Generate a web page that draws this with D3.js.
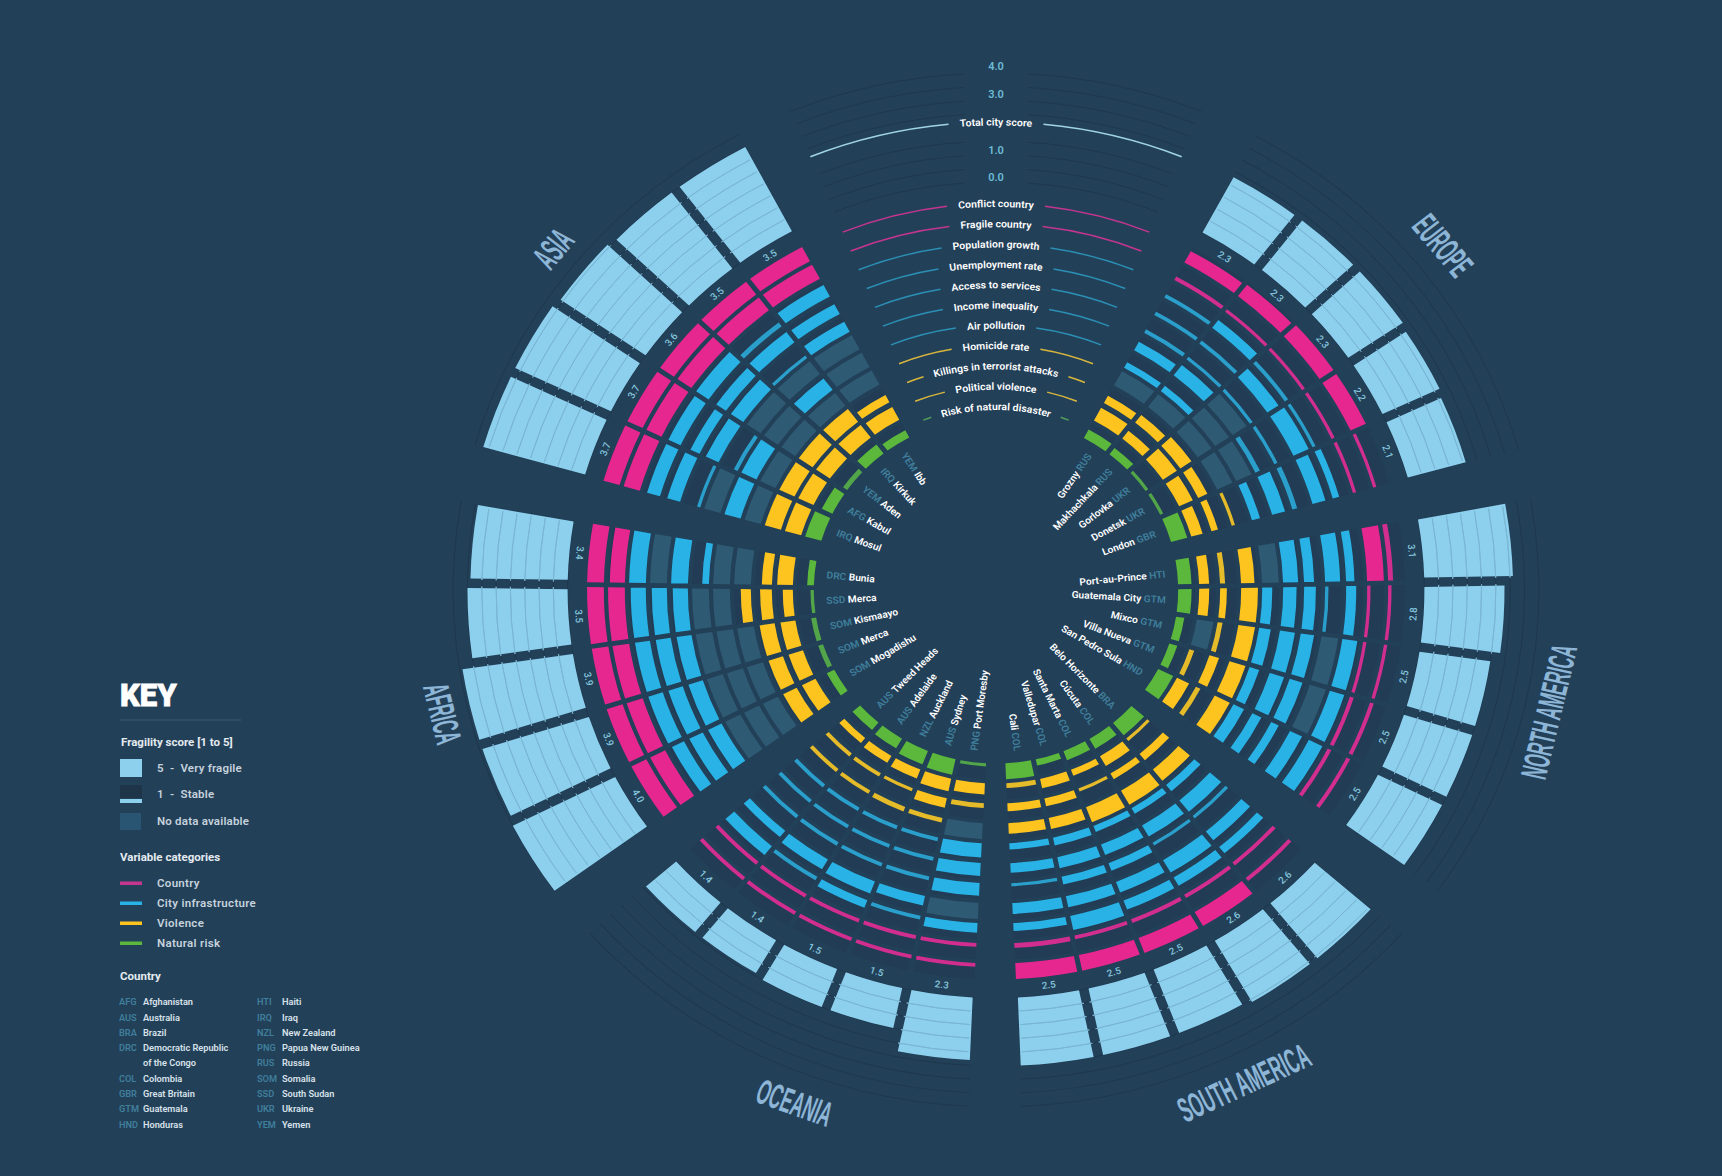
<!DOCTYPE html>
<html>
<head>
<meta charset="utf-8">
<script src="https://cdn.jsdelivr.net/npm/d3@7"></script>
<style>
html, body { margin: 0; padding: 0; background: #234059; }
svg { display: block; }
text { font-family: Roboto, "Noto Sans", sans-serif; }
</style>
</head>
<body>
<svg id="chart" width="1722" height="1176"></svg>
<script>
// rows run from the inner ring to the outer ring
var rowNames = ["Risk of natural disaster", "Political violence", "Killings in terrorist attacks", "Homicide rate",
	"Air pollution", "Income inequality", "Access to services", "Unemployment rate", "Population growth",
	"Fragile country", "Conflict country"];
var rowCategories = ["nature", "violence", "violence", "violence", "city", "city", "city", "city", "city", "country", "country"];

var continents = ["EUROPE", "NORTH AMERICA", "SOUTH AMERICA", "OCEANIA", "AFRICA", "ASIA"];
var continentStart = [28.6, 79.8, 131.7, 182.9, 234.3, 286.2];

var europeCities = ["Grozny", "Makhachkala", "Gorlovka", "Donetsk", "London"];
var europeCodes = ["RUS", "RUS", "UKR", "UKR", "GBR"];
var europeTotals = [2.3, 2.3, 2.3, 2.2, 2.1];
var europeScores = [
	[3, 4.5, 2.5, 0, 2, 3, 1.2, 1.2, 1.2, 1.2, 4],
	[2.5, 3, 3, 0, 2, 4, 1, 1.2, 3, 1, 4.5],
	[1, 5, 4, 0, 0, 0, 1, 4, 1.2, 1, 5],
	[1, 4.5, 3, 0, 0, 1.5, 1, 5, 1, 1, 5],
	[5, 3.5, 2, 1, 2.5, 4, 1.5, 4, 2, 1, 1]
];

var northAmericaCities = ["Port-au-Prince", "Guatemala City", "Mixco", "Villa Nueva", "San Pedro Sula"];
var northAmericaCodes = ["HTI", "GTM", "GTM", "GTM", "HND"];
var northAmericaTotals = [3.1, 2.8, 2.5, 2.5, 2.5];
var northAmericaScores = [
	[4, 3, 1.5, 4, 0, 4.5, 3, 4.5, 2.5, 5, 1.5],
	[4, 3, 2, 5, 3, 4, 3.5, 1, 3, 1, 1],
	[2.5, 0, 1.5, 5, 3.5, 4.5, 4, 0, 4.5, 1, 1],
	[2.5, 1.5, 3, 5, 3, 4.5, 4, 0, 4.5, 1.2, 1.2],
	[5, 4, 1.5, 5, 3.5, 3, 2.5, 4, 4.5, 1.2, 1.2]
];

var southAmericaCities = ["Belo Horizonte", "Cúcuta", "Santa Marta", "Valledupar", "Cali"];
var southAmericaCodes = ["BRA", "COL", "COL", "COL", "COL"];
var southAmericaTotals = [2.6, 2.6, 2.5, 2.5, 2.5];
var southAmericaScores = [
	[5, 1, 2.5, 4.5, 2.5, 4.5, 1, 3.5, 2.5, 1.2, 1.2],
	[3.5, 3.5, 2, 5, 2, 4, 1, 4.5, 3, 1.2, 5],
	[3, 2, 1, 5, 2, 3.5, 2.5, 3.5, 3, 1.2, 5],
	[2, 3, 2.5, 3.5, 2.5, 3.5, 2.5, 3.5, 4.5, 1.2, 5],
	[5, 1.5, 2.5, 3.3, 2, 3, 1, 3.4, 2.5, 1.5, 5]
];

var oceaniaCities = ["Port Moresby", "Sydney", "Auckland", "Adelaide", "Tweed Heads"];
var oceaniaCodes = ["PNG", "AUS", "NZL", "AUS", "AUS"];
var oceaniaTotals = [2.3, 1.5, 1.5, 1.4, 1.4];
var oceaniaScores = [
	[1, 3.5, 1.5, 0, 4.5, 4, 4, 0, 3, 1.2, 1.2],
	[5, 4, 3, 1.5, 1.2, 1.2, 1.2, 3, 1.2, 1.2, 1.2],
	[4.5, 3, 1, 1.5, 1.2, 1.2, 1.2, 4, 2.5, 1.2, 1.2],
	[3.5, 2.5, 1.2, 1.2, 1.2, 1.2, 1.2, 3.5, 1.2, 1.2, 1.2],
	[3, 2, 1.2, 1.2, 1.2, 1.2, 1.2, 2.5, 3.5, 1.2, 1.2]
];

var africaCities = ["Mogadishu", "Merca", "Kismaayo", "Merca", "Bunia"];
var africaCodes = ["SOM", "SOM", "SOM", "SSD", "DRC"];
var africaTotals = [4.0, 3.9, 3.9, 3.5, 3.4];
var africaScores = [
	[2.5, 4.5, 4.5, 0, 0, 0, 4.5, 4.5, 4, 5, 5],
	[1.5, 4.5, 4.5, 0, 0, 0, 4.5, 4.5, 4.5, 5, 5],
	[1.5, 4.5, 4.5, 0, 0, 0, 4.5, 4.5, 4.5, 5, 5],
	[1, 3, 3.5, 3, 0, 0, 4.5, 4.5, 4.5, 5, 5],
	[2, 4.7, 3, 0, 0, 2, 5, 0, 5, 4.5, 5]
];

var asiaCities = ["Mosul", "Kabul", "Aden", "Kirkuk", "Ibb"];
var asiaCodes = ["IRQ", "AFG", "YEM", "IRQ", "YEM"];
var asiaTotals = [3.7, 3.7, 3.6, 3.5, 3.5];
var asiaScores = [
	[5, 5, 5, 0, 5, 0, 1, 4, 4, 5, 5],
	[3.5, 5, 5, 0, 5, 1.2, 4.2, 3, 4, 5, 5],
	[1.5, 5, 5, 0, 0, 0, 4.5, 3.5, 4.5, 5, 5],
	[3.5, 5, 5, 0, 4.5, 0, 1, 4, 1.5, 5, 5],
	[2.5, 4.5, 2.5, 0, 0, 0, 3.5, 3.5, 4, 5, 5]
];

var totalTicks = ["0.0", "1.0", "3.0", "4.0"];
var ringSteps = [0, 0.5, 1, 1.5, 2, 2.5, 3, 3.5, 4];

var keyScale = ["5  -  Very fragile", "1  -  Stable", "No data available"];
var keyCategories = ["Country", "City infrastructure", "Violence", "Natural risk"];
var keyCategoryIds = ["country", "city", "violence", "nature"];
var countriesLeft = [["AFG", "Afghanistan"], ["AUS", "Australia"], ["BRA", "Brazil"], ["DRC", "Democratic Republic"], ["", "of the Congo"],
	["COL", "Colombia"], ["GBR", "Great Britain"], ["GTM", "Guatemala"], ["HND", "Honduras"]];
var countriesRight = [["HTI", "Haiti"], ["IRQ", "Iraq"], ["NZL", "New Zealand"], ["PNG", "Papua New Guinea"], ["RUS", "Russia"],
	["SOM", "Somalia"], ["SSD", "South Sudan"], ["UKR", "Ukraine"], ["YEM", "Yemen"]];

var solid = { country: "#e5278f", city: "#29b2e5", violence: "#fdc31e", nature: "#5bb83d" };
var slim = { country: "#d22e90", city: "#2a9fcc", violence: "#e6bb2a", nature: "#52a548" };
var thin = { country: "#c4358f", city: "#2b8fb4", violence: "#d8b63c", nature: "#4e9a58" };
var light = "#8dd0ee";
var lightLine = "#7ab5d2";
var noData = "#2f5a73";
var backing = "#213c54";
var ringColor = "#1e384e";

var rad = Math.PI / 180;
var sectorSpan = 45.6;
var colCount = 5;

var sectors = [
	{ cities: europeCities, codes: europeCodes, totals: europeTotals, scores: europeScores },
	{ cities: northAmericaCities, codes: northAmericaCodes, totals: northAmericaTotals, scores: northAmericaScores },
	{ cities: southAmericaCities, codes: southAmericaCodes, totals: southAmericaTotals, scores: southAmericaScores },
	{ cities: oceaniaCities, codes: oceaniaCodes, totals: oceaniaTotals, scores: oceaniaScores },
	{ cities: africaCities, codes: africaCodes, totals: africaTotals, scores: africaScores },
	{ cities: asiaCities, codes: asiaCodes, totals: asiaTotals, scores: asiaScores }
];

var rowInner = d3.scaleLinear().domain([0, 10]).range([173.5, 373.5]);
var scoreHeight = d3.scaleLinear().domain([0, 5]).range([0, 16]);
var totalRadius = d3.scaleLinear().domain([0, 4]).range([408, 517]);

var svg = d3.select("#chart");
// the picture is slightly wider than it is tall
var wheel = svg.append("g").attr("transform", "translate(996,590) scale(1.05,1)");
var arc = d3.arc();

function polar(a, r) {
	return [r * Math.sin(a * rad), -r * Math.cos(a * rad)];
}

// block between two radii, cut parallel between columns but flush at the sector edges
function block(start, col, r0, r1, gap) {
	var step = sectorSpan / colCount;
	var extra = gap / 2 / r0 / rad;
	var a0 = start + col * step - (col === 0 ? extra : 0);
	var a1 = start + (col + 1) * step + (col === colCount - 1 ? extra : 0);
	return arc({ innerRadius: r0, outerRadius: r1, startAngle: a0 * rad, endAngle: a1 * rad, padAngle: gap / r0, padRadius: r0 });
}

function ringPath(a0, a1, r) {
	return arc({ innerRadius: r, outerRadius: r, startAngle: a0 * rad, endAngle: a1 * rad });
}

// sector rings
sectors.forEach(function (s, si) {
	var start = continentStart[si];
	wheel.append("g").selectAll("path")
		.data(ringSteps)
		.enter()
		.append("path")
		.attr("d", function (d) { return ringPath(start, start + sectorSpan, totalRadius(d)); })
		.attr("fill", "none")
		.attr("stroke", ringColor)
		.attr("stroke-width", 1);
});

// city columns
sectors.forEach(function (s, si) {
	var start = continentStart[si];
	var step = sectorSpan / colCount;
	s.cities.forEach(function (city, col) {
		var g = wheel.append("g").attr("class", "city");
		var mid = start + (col + 0.5) * step;

		s.scores[col].forEach(function (value, row) {
			var r0 = rowInner(row);
			var cat = rowCategories[row];
			if (value === 0) {
				g.append("path").attr("d", block(start, col, r0, r0 + 16, 3.3)).attr("fill", noData);
			} else {
				g.append("path").attr("d", block(start, col, r0, r0 + 16, 3.3)).attr("fill", backing);
				g.append("path").attr("d", block(start, col, r0, r0 + scoreHeight(value), 3.3))
					.attr("fill", value < 1.6 ? slim[cat] : solid[cat]);
			}
		});

		// total score bar with its half step lines
		var total = s.totals[col];
		g.append("path").attr("d", block(start, col, totalRadius(0), totalRadius(total), 6)).attr("fill", light);
		var gapDeg = 3 / 450 / rad;
		g.selectAll(".inner").data(ringSteps.filter(function (d) { return d > 0 && d < total; }))
			.enter()
			.append("path")
			.attr("class", "inner")
			.attr("d", function (d) {
				return ringPath(start + col * step + gapDeg, start + (col + 1) * step - gapDeg, totalRadius(d));
			})
			.attr("fill", "none")
			.attr("stroke", lightLine)
			.attr("stroke-width", 0.9);

		// value label, turned so it never reads upside down
		var vp = polar(mid, 398);
		var flip = mid > 90 && mid < 280;
		g.append("text")
			.attr("transform", "translate(" + vp[0] + "," + vp[1] + ") rotate(" + (flip ? mid - 180 : mid) + ")")
			.attr("text-anchor", "middle")
			.attr("dy", "0.35em")
			.attr("font-size", 9.5)
			.attr("font-weight", 500)
			.attr("fill", "#83c6dd")
			.text(total.toFixed(1));

		// city label
		var lp = polar(mid, 162);
		var right = mid < 180;
		var label = g.append("text")
			.attr("transform", "translate(" + lp[0] + "," + lp[1] + ") rotate(" + (right ? mid - 90 : mid + 90) + ")")
			.attr("text-anchor", right ? "end" : "start")
			.attr("dy", "0.35em")
			.attr("font-size", 9.7)
			.attr("font-weight", 600);
		if (right) {
			label.append("tspan").attr("fill", "#ffffff").text(city + " ");
			label.append("tspan").attr("fill", "#3f7f9b").text(s.codes[col]);
		} else {
			label.append("tspan").attr("fill", "#3f7f9b").text(s.codes[col] + " ");
			label.append("tspan").attr("fill", "#ffffff").text(city);
		}
	});
});

// continent names
var continentPos = [[51, 548, 51], [103, 540, -77], [154.4, 546, -25.6], [200.5, 547, 20.5], [256.8, 541, 76.8], [309, 543, -51]];
wheel.append("g").selectAll("text")
	.data(continents)
	.enter()
	.append("text")
	.attr("transform", function (d, i) {
		var p = polar(continentPos[i][0], continentPos[i][1]);
		return "translate(" + p[0] + "," + p[1] + ") rotate(" + continentPos[i][2] + ") scale(0.46,1)";
	})
	.attr("text-anchor", "middle")
	.attr("dy", "0.36em")
	.attr("font-size", 35)
	.attr("font-weight", 700)
	.style("font-family", "'Liberation Sans', sans-serif")
	.attr("fill", "#8db5d6")
	.text(function (d) { return d; });

// axis sector at the top: rings with a gap for the tick labels
var topEdge = 22.2;
var topRings = ringSteps.filter(function (d) { return d !== 2; });
var topRing = wheel.append("g");
topRings.forEach(function (d) {
	var r = totalRadius(d);
	var gap = 30 / r / rad;
	[[-topEdge, -gap], [gap, topEdge]].forEach(function (side) {
		topRing.append("path").attr("d", ringPath(side[0], side[1], r))
			.attr("fill", "none").attr("stroke", ringColor).attr("stroke-width", 1);
	});
});

wheel.append("g").selectAll("text")
	.data(totalTicks)
	.enter()
	.append("text")
	.attr("x", 0)
	.attr("y", function (d) { return [-413, -440, -496, -524][totalTicks.indexOf(d)]; })
	.attr("text-anchor", "middle")
	.attr("dy", "0.35em")
	.attr("font-size", 10.5)
	.attr("font-weight", 600)
	.attr("fill", "#6cbcd6")
	.text(function (d) { return d; });

// curved label with an arc on both sides
function topLabel(name, r, color, id) {
	var baseR = r - 3.5;
	var ends = polar(topEdge, baseR);
	var defsPath = "M" + (-ends[0]) + "," + ends[1] + " A" + baseR + "," + baseR + " 0 0 1 " + ends[0] + "," + ends[1];
	wheel.append("path").attr("id", id).attr("d", defsPath).attr("fill", "none");
	var t = wheel.append("text")
		.attr("font-size", 10)
		.attr("font-weight", 600)
		.attr("fill", "#ffffff")
		.attr("text-anchor", "middle");
	t.append("textPath").attr("href", "#" + id).attr("startOffset", "50%").text(name);
	var half = (t.node().getComputedTextLength() / 2 + 11) / r / rad;
	[[-topEdge, -half], [half, topEdge]].forEach(function (side) {
		wheel.append("path").attr("d", ringPath(side[0], side[1], r))
			.attr("fill", "none").attr("stroke", color).attr("stroke-width", 1.5);
	});
}

topLabel("Total city score", 468, "#9fd4e5", "label-total");
rowNames.forEach(function (name, i) {
	topLabel(name, rowInner(i) + 10 + 0.3 * i, thin[rowCategories[i]], "label-" + i);
});

// key
var key = svg.append("g");

function keyText(x, y, str, size, weight, color) {
	return key.append("text").attr("x", x).attr("y", y).attr("dy", "0.35em")
		.attr("font-size", size).attr("font-weight", weight).attr("fill", color).text(str);
}

key.append("text").attr("x", 120).attr("y", 706).attr("font-size", 31).attr("font-weight", 900)
	.attr("fill", "#ffffff").attr("stroke", "#ffffff").attr("stroke-width", 0.8).text("KEY");
key.append("line").attr("x1", 120).attr("x2", 241).attr("y1", 720).attr("y2", 720).attr("stroke", "#3a5a73");

keyText(121, 742, "Fragility score [1 to 5]", 11.5, 700, "#e3ebf0");
key.append("rect").attr("x", 120).attr("y", 759).attr("width", 22).attr("height", 18).attr("fill", light);
key.append("rect").attr("x", 120).attr("y", 785).attr("width", 22).attr("height", 13).attr("fill", "#1d3449");
key.append("rect").attr("x", 120).attr("y", 799).attr("width", 22).attr("height", 4).attr("fill", light);
key.append("rect").attr("x", 120).attr("y", 813).attr("width", 21).attr("height", 17).attr("fill", "#2a5572");
key.selectAll(".scale-label").data(keyScale).enter().append("text")
	.attr("class", "scale-label")
	.attr("x", 157)
	.attr("y", function (d, i) { return [768, 794, 821][i]; })
	.attr("dy", "0.35em")
	.attr("font-size", 11.5).attr("font-weight", 600).attr("fill", "#c5d2dc")
	.attr("letter-spacing", 0.2)
	.style("white-space", "pre")
	.text(function (d) { return d; });

keyText(120, 857, "Variable categories", 11.5, 700, "#e3ebf0");
key.selectAll(".cat-line").data(keyCategoryIds).enter().append("rect")
	.attr("class", "cat-line")
	.attr("x", 120).attr("width", 22).attr("height", 3.5)
	.attr("y", function (d, i) { return 881.5 + i * 20; })
	.attr("fill", function (d) { return d === "country" ? thin.country : (d === "city" ? solid.city : solid[d]); });
key.selectAll(".cat-label").data(keyCategories).enter().append("text")
	.attr("class", "cat-label")
	.attr("x", 157)
	.attr("y", function (d, i) { return 883 + i * 20; })
	.attr("dy", "0.35em")
	.attr("font-size", 11.5).attr("font-weight", 600).attr("fill", "#c5d2dc")
	.attr("letter-spacing", 0.3)
	.text(function (d) { return d; });

keyText(120, 976, "Country", 11.5, 700, "#e3ebf0");

function countryColumn(list, xCode, xName) {
	list.forEach(function (c, i) {
		var y = 1002 + i * 15.3;
		keyText(xCode, y, c[0], 9.2, 600, "#3f7f9b");
		keyText(xName, y, c[1], 9.2, 600, "#d8e2ea");
	});
}
countryColumn(countriesLeft, 119, 143);
countryColumn(countriesRight, 257, 282);
</script>
</body>
</html>
